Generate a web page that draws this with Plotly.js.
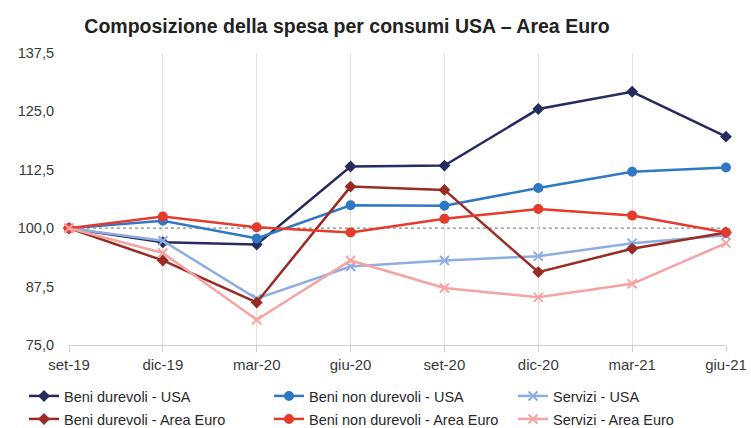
<!DOCTYPE html>
<html>
<head>
<meta charset="utf-8">
<script src="https://cdn.plot.ly/plotly-3.0.1.min.js"></script>
<style>html,body{margin:0;padding:0;background:#fff;}#chart{width:751px;height:428px;}</style>
</head>
<body>
<div id="chart"></div>
<script>
var categories = ["set-19","dic-19","mar-20","giu-20","set-20","dic-20","mar-21","giu-21"];
var beniDurevoliUSA = [100, 97.0, 96.5, 113.2, 113.4, 125.5, 129.2, 119.6];
var beniNonDurevoliUSA = [100, 101.6, 97.8, 104.9, 104.8, 108.6, 112.1, 113.0];
var serviziUSA = [100, 97.3, 84.9, 91.8, 93.1, 94.0, 96.8, 98.5];
var beniDurevoliEuro = [100, 93.1, 84.1, 108.9, 108.2, 90.6, 95.6, 99.1];
var beniNonDurevoliEuro = [100, 102.5, 100.2, 99.1, 102.0, 104.1, 102.7, 99.1];
var serviziEuro = [100, 94.7, 80.4, 93.1, 87.2, 85.2, 88.1, 96.8];
var yTickVals = [75, 87.5, 100, 112.5, 125, 137.5];
var yTickText = ["75,0","87,5","100,0","112,5","125,0","137,5"];
var seriesNames = ["Beni durevoli - USA","Beni non durevoli - USA","Servizi - USA",
                   "Beni durevoli - Area Euro","Beni non durevoli - Area Euro","Servizi - Area Euro"];

var series = [beniDurevoliUSA, beniNonDurevoliUSA, serviziUSA, beniDurevoliEuro, beniNonDurevoliEuro, serviziEuro];
var colors = ["#262c5f","#2f78c4","#8eaee2","#9a2b24","#e63a2c","#f5a3a3"];
var symbols = ["diamond","circle","x-thin-open","diamond","circle","x-thin-open"];
var sizes = [7,8,9,7,8,9];
var legendIds = ["legend","legend2","legend3","legend4","legend5","legend6"];

var traces = series.map(function(s,i){
  return {
    x: categories, y: s, name: seriesNames[i], type: 'scatter', mode: 'lines+markers',
    line: {color: colors[i], width: 2.5},
    marker: {color: colors[i], symbol: symbols[i], size: sizes[i], line: {color: colors[i], width: 2}},
    cliponaxis: false,
    legend: legendIds[i]
  };
});

var layout = {
  width: 751, height: 428,
  margin: {l: 69, r: 25, t: 53, b: 83, autoexpand: false},
  paper_bgcolor: '#fff', plot_bgcolor: '#fff',
  font: {family: 'Liberation Sans, Arial, sans-serif', color: '#3a3a3a', size: 13},
  title: {text: '<b>Composizione della spesa per consumi USA – Area Euro</b>',
          font: {family: 'Liberation Sans, sans-serif', size: 19.5, color: '#222'},
          x: 0.462, xanchor: 'center', xref: 'container', y: 0.94, yref: 'container', yanchor: 'middle'},
  xaxis: {type: 'category', range: [0, 7], showgrid: true, gridcolor: '#e2e2e2', gridwidth: 1,
          showline: true, linecolor: '#d0d0d0', linewidth: 1, ticks: 'outside', ticklen: 6, tickcolor: '#d0d0d0',
          tickfont: {size: 15}, zeroline: false, fixedrange: true, automargin: false},
  yaxis: {range: [75, 137.5], tickvals: yTickVals, ticktext: yTickText, showgrid: false, zeroline: false,
          showline: false, ticks: '', ticklabelstandoff: 14, tickfont: {size: 14.5}, fixedrange: true, automargin: false},
  shapes: [{type: 'line', xref: 'paper', x0: 0, x1: 1, yref: 'y', y0: 100, y1: 100,
            line: {color: '#8a8a8a', width: 1.2, dash: 'dot'}, layer: 'below'}],
  showlegend: true
};

var legendX = [24, 269, 513];
var legendTop = [380, 403];
legendIds.forEach(function(id, i){
  var col = i % 3, row = Math.floor(i / 3);
  layout[id] = {orientation: 'h', xref: 'container', xanchor: 'left', yref: 'container', yanchor: 'top',
                x: legendX[col] / 751, y: 1 - legendTop[row] / 428,
                font: {size: 14.5, color: '#2a2a2a'}, bgcolor: 'rgba(0,0,0,0)'};
});

Plotly.newPlot('chart', traces, layout, {displayModeBar: false, staticPlot: true});
</script>
</body>
</html>
